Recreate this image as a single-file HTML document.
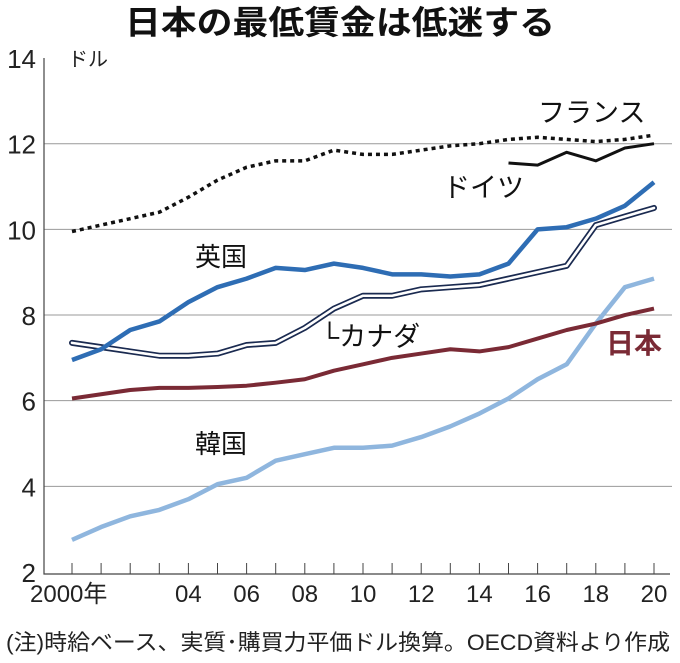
<!DOCTYPE html>
<html><head><meta charset="utf-8"><style>
body{margin:0;background:#fff;}
svg text{font-family:"Liberation Sans","Noto Sans CJK JP",sans-serif;}
</style></head><body>
<svg id="c" width="680" height="658" viewBox="0 0 680 658" xmlns="http://www.w3.org/2000/svg">
<text x="340" y="34" text-anchor="middle" font-size="33" font-weight="bold" fill="#111" textLength="430" lengthAdjust="spacingAndGlyphs">日本の最低賃金は低迷する</text>
<g id="grid"></g>
<g id="lines"></g>
<text x="68" y="66" font-size="20" fill="#222">ドル</text>
<text x="538" y="122" font-size="27" fill="#111">フランス</text>
<text x="443" y="197" font-size="27" fill="#111">ドイツ</text>
<text x="195" y="266" font-size="26" fill="#111">英国</text>
<text x="320" y="346" font-size="27" fill="#111">└カナダ</text>
<text x="606" y="353" font-size="28" font-weight="bold" fill="#7a2a35">日本</text>
<text x="195" y="453" font-size="26" fill="#111">韓国</text>
<text x="6" y="650" font-size="22" fill="#222" textLength="664" lengthAdjust="spacingAndGlyphs">(注)時給ベース、実質･購買力平価ドル換算。OECD資料より作成</text>
</svg>
<script>
const years=[2000,2001,2002,2003,2004,2005,2006,2007,2008,2009,2010,2011,2012,2013,2014,2015,2016,2017,2018,2019,2020];
const france=[9.95,10.1,10.25,10.4,10.75,11.15,11.45,11.6,11.6,11.85,11.75,11.75,11.85,11.95,12.0,12.1,12.15,12.1,12.05,12.1,12.2];
const germanyYears=[2015,2016,2017,2018,2019,2020];
const germany=[11.55,11.5,11.8,11.6,11.9,12.0];
const uk=[6.95,7.2,7.65,7.85,8.3,8.65,8.85,9.1,9.05,9.2,9.1,8.95,8.95,8.9,8.95,9.2,10.0,10.05,10.25,10.55,11.1];
const canada=[7.35,7.25,7.15,7.05,7.05,7.1,7.3,7.35,7.7,8.15,8.45,8.45,8.6,8.65,8.7,8.85,9.0,9.15,10.1,10.3,10.5];
const japan=[6.05,6.15,6.25,6.3,6.3,6.32,6.35,6.42,6.5,6.7,6.85,7.0,7.1,7.2,7.15,7.25,7.45,7.65,7.8,8.0,8.15];
const korea=[2.75,3.05,3.3,3.45,3.7,4.05,4.2,4.6,4.75,4.9,4.9,4.95,5.15,5.4,5.7,6.05,6.5,6.85,7.8,8.65,8.85];
const yTicks=[2,4,6,8,10,12,14];
const xTickLabels=[[2000,"2000年"],[2004,"04"],[2006,"06"],[2008,"08"],[2010,"10"],[2012,"12"],[2014,"14"],[2016,"16"],[2018,"18"],[2020,"20"]];
const NS="http://www.w3.org/2000/svg";
const X=y=>72+(y-2000)*29.1;
const Y=v=>572-(v-2)*42.83;
function mk(tag,attrs,parent){const e=document.createElementNS(NS,tag);for(const k in attrs)e.setAttribute(k,attrs[k]);parent.appendChild(e);return e;}
const grid=document.getElementById('grid'),lines=document.getElementById('lines');
yTicks.forEach(v=>{
  if(v>2&&v<14){const g=mk('line',{x1:44,x2:672,y1:Y(v),y2:Y(v),stroke:'#999','stroke-width':1},grid);
  
  }
  const t=mk('text',{x:36,y:Y(v)+10,'text-anchor':'end','font-size':26,fill:'#222'},grid);t.textContent=v;
  
  
});
const ax=mk('path',{d:`M44 ${Y(14)} V${Y(2)+2} H670`,stroke:'#444','stroke-width':1.2,fill:'none'},grid);


years.forEach(y=>{const t=mk('line',{x1:X(y),x2:X(y),y1:Y(2)+2,y2:Y(2)-9,stroke:'#444','stroke-width':1},grid);
  
  });
xTickLabels.forEach(([y,l])=>{const t=mk('text',{x:X(y),y:602,'text-anchor':'middle','font-size':24,fill:'#222'},grid);
  if(y===2000){t.setAttribute('x',30);t.setAttribute('text-anchor','start');}
  t.textContent=l;
  
  });
function pts(xs,vs){return xs.map((y,i)=>X(y)+','+Y(vs[i])).join(' ');}
function line(xs,vs,attrs,name){const p=mk('polyline',Object.assign({points:pts(xs,vs),fill:'none','stroke-linejoin':'round'},attrs),lines);
  
  return p;}
line(years,france,{stroke:'#111','stroke-width':3.5,'stroke-dasharray':'4 4'},'line-france');
line(germanyYears,germany,{stroke:'#111','stroke-width':3},'line-germany');
line(years,korea,{stroke:'#8fb6de','stroke-width':4.5},'line-korea');
line(years,japan,{stroke:'#7a2a35','stroke-width':4},'line-japan');
line(years,canada,{stroke:'#1a2a50','stroke-width':6,'stroke-linecap':'round'},'line-canada-outline');
line(years,canada,{stroke:'#fff','stroke-width':2.6,'stroke-linecap':'round'},'line-canada');
line(years,uk,{stroke:'#2e6db4','stroke-width':4.5},'line-uk');
</script>
</body></html>
